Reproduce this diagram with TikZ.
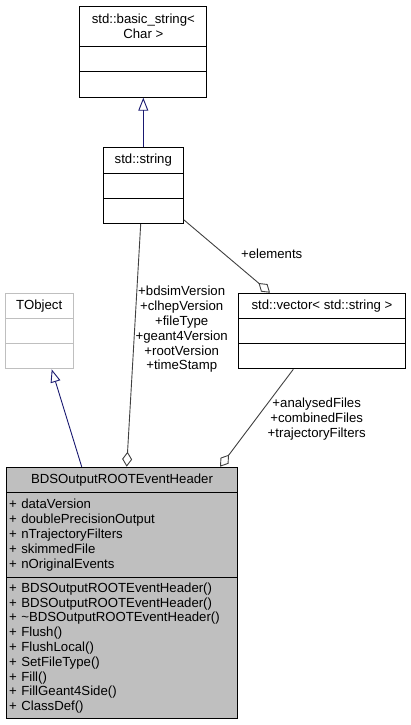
\documentclass[tikz,border=0pt]{standalone}
\usepackage{fontspec}
\setmainfont{Liberation Sans}
\usetikzlibrary{arrows.meta}
\definecolor{edgegray}{HTML}{404040}
\definecolor{inhblue}{HTML}{191970}
\definecolor{hdrfill}{HTML}{BFBFBF}
\definecolor{undoc}{HTML}{BFBFBF}
\begin{document}
\begin{tikzpicture}[x=1pt,y=-1pt]
  \tikzstyle{part}=[draw=black, line width=1pt, inner sep=0pt, anchor=north, font=\fontsize{13.2}{14.8}\selectfont]
  \tikzstyle{lbl}=[inner sep=0pt, align=center, font=\fontsize{13.2}{14.8}\selectfont]
  \tikzstyle{inherit}=[draw=inhblue, line width=0.9pt, -{Triangle[open,length=13pt,width=10pt]}]
  \tikzstyle{usage}=[draw=edgegray, line width=0.9pt, -{Diamond[open,length=15pt,width=10pt]}]
  \useasboundingbox (0,0) rectangle (411,725);
  % std::basic_string< Char >
  \node[part, minimum width=126.7, minimum height=39.7, align=center] (Bstr1) at (143.3,6) {std::basic\_string<\\Char >};
  \node[part, minimum width=126.7, minimum height=25.3] (Bstr2) at (143.3,45.7) {};
  \node[part, minimum width=126.7, minimum height=25.7] (Bstr3) at (143.3,71) {};
  % std::string
  \node[part, minimum width=80, minimum height=25.7] (Str1) at (143.3,147) {std::string};
  \node[part, minimum width=80, minimum height=25.3] (Str2) at (143.3,172.7) {};
  \node[part, minimum width=80, minimum height=25] (Str3) at (143.3,198) {};
  % TObject
  \node[part, draw=undoc, minimum width=68.3, minimum height=25.6] (TObj1) at (39.2,292.7) {TObject};
  \node[part, draw=undoc, minimum width=68.3, minimum height=25] (TObj2) at (39.2,318.3) {};
  \node[part, draw=undoc, minimum width=68.3, minimum height=25] (TObj3) at (39.2,343.3) {};
  % std::vector< std::string >
  \node[part, minimum width=166.6, minimum height=25.6] (Vec1) at (322,292.7) {std::vector< std::string >};
  \node[part, minimum width=166.6, minimum height=25] (Vec2) at (322,318.3) {};
  \node[part, minimum width=166.6, minimum height=25] (Vec3) at (322,343.3) {};
  % BDSOutputROOTEventHeader
  \node[part, fill=hdrfill, minimum width=230.6, minimum height=25.6] (Hdr1) at (122,466.7) {BDSOutputROOTEventHeader};
  \node[part, fill=hdrfill, minimum width=230.6, minimum height=84.4, text width=225.6, inner xsep=2.5pt, align=left] (Hdr2) at (122,492.3)
    {+ dataVersion\\+ doublePrecisionOutput\\+ nTrajectoryFilters\\+ skimmedFile\\+ nOriginalEvents};
  \node[part, fill=hdrfill, minimum width=230.6, minimum height=141.6, text width=225.6, inner xsep=2.5pt, align=left] (Hdr3) at (122,576.7)
    {+ BDSOutputROOTEventHeader()\\+ BDSOutputROOTEventHeader()\\+ \textasciitilde BDSOutputROOTEventHeader()\\+ Flush()\\+ FlushLocal()\\+ SetFileType()\\+ Fill()\\+ FillGeant4Side()\\+ ClassDef()};
  % edge labels
  \node[lbl] (Lel) at (271.7,254) {+elements};
  \node[lbl] (Lbd) at (181.7,329.5) {+bdsimVersion\\+clhepVersion\\+fileType\\+geant4Version\\+rootVersion\\+timeStamp};
  \node[lbl] (Lan) at (316.7,419) {+analysedFiles\\+combinedFiles\\+trajectoryFilters};
  % connectors
  \draw[inherit] (Str1.north) -- (Bstr3.south);
  \draw[inherit] ([xshift=-40.3pt]Hdr1.north) -- ([xshift=12.5pt]TObj3.south);
  \draw[usage] ([xshift=-2.6pt]Str3.south) -- ([xshift=4.7pt]Hdr1.north);
  \draw[usage] ([yshift=-8.8pt]Str3.east) -- ([xshift=-52pt]Vec1.north);
  \draw[usage] ([xshift=-28.7pt]Vec3.south) -- ([xshift=98pt]Hdr1.north);
\end{tikzpicture}
\end{document}
